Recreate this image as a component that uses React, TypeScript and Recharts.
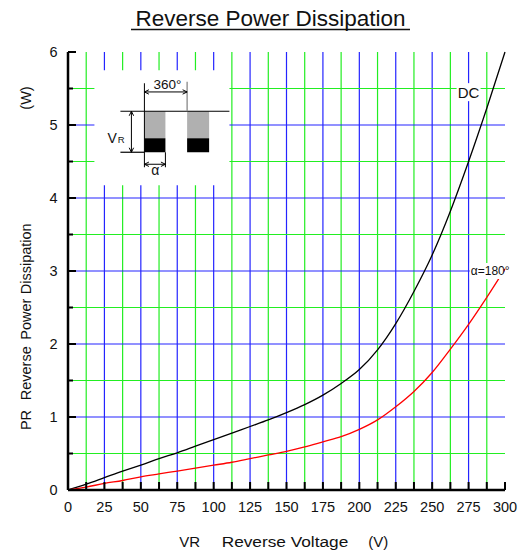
import { LineChart, Line, XAxis, YAxis, ReferenceLine, ReferenceDot } from "recharts";

// reverse voltage (V)
const voltage = [0, 12.5, 25, 37.5, 50, 62.5, 75, 87.5, 100, 112.5, 125, 137.5, 150, 162.5, 175, 187.5, 200, 212.5, 225, 237.5, 250, 262.5, 275, 287.5, 300];
// reverse power dissipation (W)
const dcPower = [0, 0.08, 0.17, 0.26, 0.34, 0.43, 0.51, 0.6, 0.69, 0.78, 0.87, 0.96, 1.06, 1.17, 1.3, 1.46, 1.65, 1.92, 2.28, 2.72, 3.22, 3.82, 4.5, 5.23, 6.0];
const alpha180Power = [0, 0.04, 0.09, 0.13, 0.18, 0.22, 0.26, 0.3, 0.34, 0.38, 0.43, 0.48, 0.53, 0.59, 0.66, 0.73, 0.83, 0.96, 1.14, 1.35, 1.61, 1.93, 2.27, 2.64, 3.03];

const xTicks = [0, 12.5, 25, 37.5, 50, 62.5, 75, 87.5, 100, 112.5, 125, 137.5, 150, 162.5, 175, 187.5, 200, 212.5, 225, 237.5, 250, 262.5, 275, 287.5, 300];
const xLabels = [0, 25, 50, 75, 100, 125, 150, 175, 200, 225, 250, 275, 300];
const yTicks = [0, 0.5, 1, 1.5, 2, 2.5, 3, 3.5, 4, 4.5, 5, 5.5, 6];
const yLabels = [0, 1, 2, 3, 4, 5, 6];

const xGridBlue = [25, 50, 75, 100, 125, 150, 175, 200, 225, 250, 275];
const xGridGreen = [12.5, 37.5, 62.5, 87.5, 112.5, 137.5, 162.5, 187.5, 212.5, 237.5, 262.5, 287.5];
const yGridBlue = [1, 2, 3, 4, 5];
const yGridGreen = [0.5, 1.5, 2.5, 3.5, 4.5, 5.5];

const data = voltage.map((v, i) => ({ v, dc: dcPower[i], a180: alpha180Power[i] }));

const FONT = "'Liberation Sans', Arial, sans-serif";
const BLUE = "#2424ff";
const GREEN = "#22ee22";

const BottomTick = (props: any) => {
  const { x, y, payload } = props;
  return (
    <g>
      <line x1={x} y1={y} x2={x} y2={y - 8} stroke="#000" strokeWidth={2} />
      {xLabels.includes(payload.value) && (
        <text x={x} y={y + 21.5} textAnchor="middle" fontSize={14.5} fontFamily={FONT} fill="#111">
          {payload.value}
        </text>
      )}
    </g>
  );
};

const TopTick = (props: any) => {
  const { x, y } = props;
  return <line x1={x} y1={y} x2={x} y2={y + 9} stroke="#000" strokeWidth={2} />;
};

const LeftTick = (props: any) => {
  const { x, y, payload } = props;
  const major = yLabels.includes(payload.value);
  return (
    <g>
      <line x1={x} y1={y} x2={x + (major ? 8 : 5)} y2={y} stroke="#000" strokeWidth={2} />
      {major && (
        <text x={x - 10.5} y={y} dy="0.36em" textAnchor="end" fontSize={14.5} fontFamily={FONT} fill="#111">
          {payload.value}
        </text>
      )}
    </g>
  );
};

const RightTick = (props: any) => {
  const { x, y, payload } = props;
  const major = yLabels.includes(payload.value);
  return <line x1={x} y1={y} x2={x - (major ? 8 : 5)} y2={y} stroke="#000" strokeWidth={2} />;
};

const arrowLine = (x1: number, y1: number, x2: number, y2: number) => {
  const dx = x2 - x1;
  const dy = y2 - y1;
  const len = Math.hypot(dx, dy);
  const ux = dx / len;
  const uy = dy / len;
  const h = 4.5;
  const w = 2.2;
  const head = (px: number, py: number, dirx: number, diry: number) =>
    `M${px - dirx * h - diry * w},${py - diry * h + dirx * w} L${px},${py} L${px - dirx * h + diry * w},${py - diry * h - dirx * w}`;
  return (
    <g stroke="#000" strokeWidth={1} fill="none">
      <line x1={x1} y1={y1} x2={x2} y2={y2} />
      <path d={head(x2, y2, ux, uy)} />
      <path d={head(x1, y1, -ux, -uy)} />
    </g>
  );
};

// waveform inset, drawn relative to its top-left anchor
const Inset = (props: any) => {
  const { cx, cy } = props;
  const X = (d: number) => cx + d;
  const Y = (d: number) => cy + d;
  return (
    <g>
      <rect x={X(-10)} y={Y(0)} width={135} height={115} fill="#fff" />
      <rect x={X(40)} y={Y(41)} width={21} height={27} fill="#b0b0b0" />
      <rect x={X(40)} y={Y(68)} width={21} height={14} fill="#000" />
      <rect x={X(82.7)} y={Y(41)} width={22} height={27} fill="#b0b0b0" />
      <rect x={X(82.7)} y={Y(68)} width={22} height={14} fill="#000" />
      <line x1={X(16)} y1={Y(41)} x2={X(125)} y2={Y(41)} stroke="#000" strokeWidth={1.2} />
      <line x1={X(16)} y1={Y(82)} x2={X(40)} y2={Y(82)} stroke="#000" strokeWidth={1.2} />
      <line x1={X(40)} y1={Y(13)} x2={X(40)} y2={Y(97)} stroke="#000" strokeWidth={1} />
      <line x1={X(61)} y1={Y(82)} x2={X(61)} y2={Y(97)} stroke="#000" strokeWidth={1} />
      <line x1={X(82.7)} y1={Y(11.5)} x2={X(82.7)} y2={Y(41)} stroke="#888" strokeWidth={1.3} />
      {arrowLine(X(40), Y(21.7), X(82.7), Y(21.7))}
      {arrowLine(X(27), Y(41), X(27), Y(82))}
      {arrowLine(X(40), Y(94), X(61), Y(94))}
      <text x={X(63)} y={Y(18.3)} textAnchor="middle" fontSize={13.5} fontFamily={FONT} fill="#111">
        360°
      </text>
      <text x={X(3)} y={Y(72.5)} fontSize={14} fontFamily={FONT} fill="#111">
        V
        <tspan fontSize={9.5} dx={1}>R</tspan>
      </text>
      <text x={X(51)} y={Y(105)} textAnchor="middle" fontSize={14} fontFamily={FONT} fill="#111">
        α
      </text>
    </g>
  );
};

const DcLabel = (props: any) => {
  const { cx, cy } = props;
  return (
    <g>
      <rect x={cx - 12} y={cy - 9} width={24} height={18} fill="#fff" />
      <text x={cx} y={cy} dy="0.36em" textAnchor="middle" fontSize={15} fontFamily={FONT} fill="#111">
        DC
      </text>
    </g>
  );
};

const AlphaLabel = (props: any) => {
  const { cx, cy } = props;
  return (
    <g>
      <rect x={cx - 1} y={cy - 8} width={34} height={16} fill="#fff" />
      <text x={cx} y={cy} dy="0.36em" fontSize={12} fontFamily={FONT} fill="#111">
        α=180°
      </text>
    </g>
  );
};

const yWords = [
  { text: "PR", cy: 420 },
  { text: "Reverse", cy: 373.3 },
  { text: "Power", cy: 319.2 },
  { text: "Dissipation", cy: 258.8 },
  { text: "(W)", cy: 98 },
];

export default function App() {
  return (
    <div style={{ position: "absolute", left: 0, top: 0, width: 526, height: 553, background: "#fff" }}>
      <LineChart width={526} height={553} data={data} margin={{ top: 52, right: 21, left: 8, bottom: 33 }}>
        {xGridGreen.map((v) => (
          <ReferenceLine key={"xg" + v} x={v} stroke={GREEN} strokeWidth={1.2} />
        ))}
        {xGridBlue.map((v) => (
          <ReferenceLine key={"xb" + v} x={v} stroke={BLUE} strokeWidth={1.2} />
        ))}
        {yGridGreen.map((v) => (
          <ReferenceLine key={"yg" + v} y={v} stroke={GREEN} strokeWidth={1.2} />
        ))}
        {yGridBlue.map((v) => (
          <ReferenceLine key={"yb" + v} y={v} stroke={BLUE} strokeWidth={1.2} />
        ))}
        <XAxis
          dataKey="v"
          type="number"
          domain={[0, 300]}
          ticks={xTicks}
          interval={0}
          height={30}
          tickSize={0}
          tickMargin={0}
          tickLine={false}
          axisLine={{ stroke: "#000", strokeWidth: 2.5 }}
          tick={<BottomTick />}
        />
        <XAxis
          xAxisId="top"
          orientation="top"
          dataKey="v"
          type="number"
          domain={[0, 300]}
          ticks={xTicks}
          interval={0}
          height={0}
          tickSize={0}
          tickMargin={0}
          tickLine={false}
          axisLine={{ stroke: "#000", strokeWidth: 2.5 }}
          tick={<TopTick />}
        />
        <YAxis
          type="number"
          domain={[0, 6]}
          ticks={yTicks}
          interval={0}
          width={60}
          tickSize={0}
          tickMargin={0}
          tickLine={false}
          axisLine={{ stroke: "#000", strokeWidth: 2.5 }}
          tick={<LeftTick />}
        />
        <YAxis
          yAxisId="right"
          orientation="right"
          type="number"
          domain={[0, 6]}
          ticks={yTicks}
          interval={0}
          width={0}
          tickSize={0}
          tickMargin={0}
          tickLine={false}
          axisLine={{ stroke: "#000", strokeWidth: 2.5 }}
          tick={<RightTick />}
        />
        <Line type="monotone" dataKey="dc" stroke="#000" strokeWidth={1.3} dot={false} isAnimationActive={false} />
        <Line type="monotone" dataKey="a180" stroke="#ff0000" strokeWidth={1.3} dot={false} isAnimationActive={false} />
        <ReferenceDot x={25} y={5.75} r={0} shape={<Inset />} />
        <ReferenceDot x={275} y={5.45} r={0} shape={<DcLabel />} />
        <ReferenceDot x={276.5} y={3.0} r={0} shape={<AlphaLabel />} />
      </LineChart>
      <svg width={526} height={553} style={{ position: "absolute", left: 0, top: 0, pointerEvents: "none" }}>
        <text x={270.5} y={26} textAnchor="middle" fontSize={22.5} fontFamily={FONT} fill="#111">
          Reverse Power Dissipation
        </text>
        <line x1={131} y1={29.5} x2={410} y2={29.5} stroke="#111" strokeWidth={1.5} />
        {yWords.map((w) => (
          <text
            key={w.text}
            x={25.7}
            y={w.cy}
            dy="0.36em"
            textAnchor="middle"
            fontSize={14.5}
            fontFamily={FONT}
            fill="#111"
            transform={`rotate(-90, 25.7, ${w.cy})`}
          >
            {w.text}
          </text>
        ))}
        <text x={179.3} y={547} fontSize={15} fontFamily={FONT} fill="#111">VR</text>
        <text
          x={221.7}
          y={547}
          fontSize={15.5}
          fontFamily={FONT}
          fill="#111"
          textLength={126.6}
          lengthAdjust="spacingAndGlyphs"
        >
          Reverse Voltage
        </text>
        <text x={368.3} y={547} fontSize={15} fontFamily={FONT} fill="#111">(V)</text>
      </svg>
    </div>
  );
}
